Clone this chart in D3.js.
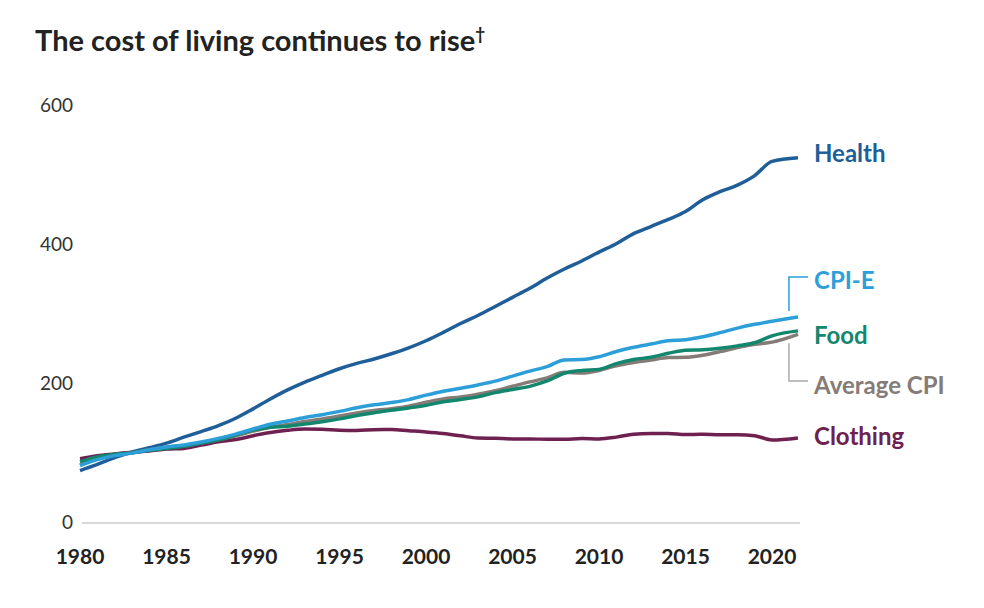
<!DOCTYPE html>
<html>
<head>
<meta charset="utf-8">
<script src="https://cdn.jsdelivr.net/npm/d3@7"></script>
<style>
  body { margin: 0; background: #fff; font-family: Lato, "Open Sans", sans-serif; }
  .title { font-size: 29px; font-weight: 700; fill: #222; }
  .ytick { font-size: 19px; fill: #333; }
  .xtick { font-size: 21px; font-weight: 700; fill: #222; }
  .series__label { font-size: 24px; font-weight: 700; }
</style>
</head>
<body>
<svg id="chart" width="984" height="608"></svg>
<script>
var years = d3.range(1980, 2021).concat([2021.5]);

var health   = [74,82.9,92.5,100.6,106.8,113.5,122,130.1,138.6,149.3,162.8,177,190.1,201.4,211,220.5,228.2,234.6,242.1,250.6,260.8,272.8,285.6,297.1,310.1,323.2,336.2,351.1,364.1,375.6,388.4,400.3,414.9,425.1,435.3,446.8,463.7,475.3,484.7,498.4,518.9,524];
var cpiE     = [81,89.7,95.5,99.1,103.9,107.9,110.7,115.1,120.3,126.5,133.8,140.6,145.4,150.3,154.4,159.2,164.3,168.6,171.9,176.1,182.5,188.2,192.5,197.2,202.7,209.9,217.1,223.6,233.1,233.7,237.7,245.4,251.4,256,260.7,262.3,266.6,272.5,279,284.4,288.8,295];
var food     = [86.8,93.6,97.4,99.4,103.2,105.6,109,113.5,118.2,125.1,132.4,136.3,137.9,140.9,144.3,148.4,153.3,157.3,160.7,164.1,167.8,173.1,176.2,180,186.2,190.7,195.2,202.9,214.1,218,219.6,227.8,233.8,237,242.7,247.2,247.9,250.1,253.4,257.9,267.9,275];
var avgCpi   = [82.4,90.9,96.5,99.6,103.9,107.6,109.6,113.6,118.3,124,130.7,136.2,140.3,144.5,148.2,152.4,156.9,160.5,163,166.6,172.2,177.1,179.9,184,188.9,195.3,201.6,207.3,215.3,214.5,218.1,224.9,229.6,233,236.7,237,240,245.1,251.1,255.7,258.8,270];
var clothing = [90.9,95.3,97.8,100.2,102.1,105,105.9,110.6,115.4,118.6,124.1,128.7,131.9,133.7,133.4,132,131.7,132.9,133,131.3,129.6,127.3,124,120.9,120.4,119.5,119.5,119,118.9,120.1,119.5,122.1,126.3,127.4,127.5,125.9,126.1,125.6,125.7,124.2,118,121];

var xTicks = [1980, 1985, 1990, 1995, 2000, 2005, 2010, 2015, 2020];
var yTicks = [0, 200, 400, 600];

var series = [
    { name: 'Clothing',    values: clothing, color: '#6e2150', labelY: 437 },
    { name: 'Health',      values: health,   color: '#1f5e99', labelY: 154 },
    { name: 'Average CPI', values: avgCpi,   color: '#857b77', labelY: 386 },
    { name: 'Food',        values: food,     color: '#13876e', labelY: 336 },
    { name: 'CPI-E',       values: cpiE,     color: '#2c9fd9', labelY: 281 }
];

var svg = d3.select('#chart');
var x = d3.scaleLinear().domain([1980, 2020]).range([80, 772]);
var y = d3.scaleLinear().domain([0, 600]).range([522, 105]);

svg.append('text')
    .attr('class', 'title')
    .attr('x', 35)
    .attr('y', 51)
    .text('The cost of living continues to rise')
  .append('tspan')
    .attr('font-size', 17)
    .attr('dy', -11)
    .text('†');

// baseline
svg.append('line')
    .attr('x1', 82).attr('x2', 800)
    .attr('y1', y(0) + 1).attr('y2', y(0) + 1)
    .attr('stroke', '#ccc').attr('stroke-width', 1.5);

svg.selectAll('.ytick')
    .data(yTicks)
    .enter().append('text')
    .attr('class', 'ytick')
    .attr('x', 73)
    .attr('y', d => y(d) + 7)
    .attr('text-anchor', 'end')
    .text(d => d);

svg.selectAll('.xtick')
    .data(xTicks)
    .enter().append('text')
    .attr('class', 'xtick')
    .attr('x', d => x(d))
    .attr('y', 564)
    .attr('text-anchor', 'middle')
    .text(d => d);

var line = d3.line()
    .x((d, i) => x(years[i]))
    .y(d => y(d))
    .curve(d3.curveMonotoneX);

svg.selectAll('.series')
    .data(series)
    .enter().append('path')
    .attr('class', 'series')
    .attr('d', s => line(s.values))
    .attr('fill', 'none')
    .attr('stroke', s => s.color)
    .attr('stroke-width', 3.5)
    .attr('stroke-linejoin', 'round');

// leader brackets
var lastX = x(years[years.length - 1]);
svg.append('path')
    .attr('d', `M${lastX - 9},${y(cpiE[cpiE.length - 1]) - 6} V277 H808`)
    .attr('fill', 'none').attr('stroke', '#2c9fd9').attr('stroke-width', 1.5);
svg.append('path')
    .attr('d', `M${lastX - 9},${y(avgCpi[avgCpi.length - 1]) + 9} V381 H808`)
    .attr('fill', 'none').attr('stroke', '#aaa').attr('stroke-width', 1.5);

svg.selectAll('.series__label')
    .data(series)
    .enter().append('text')
    .attr('class', 'series__label')
    .attr('x', 814)
    .attr('y', s => s.labelY + 8)
    .attr('fill', s => s.color)
    .text(s => s.name);
</script>
</body>
</html>
